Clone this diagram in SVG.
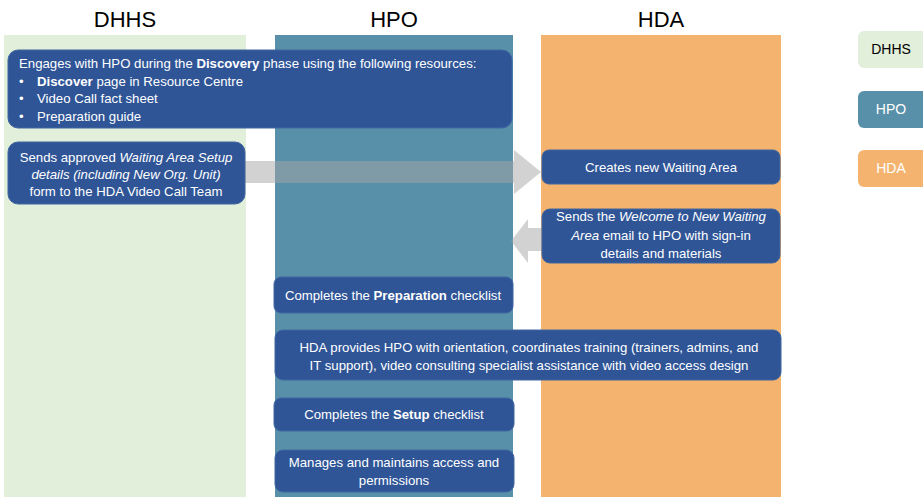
<svg xmlns="http://www.w3.org/2000/svg" width="923" height="497" viewBox="0 0 923 497">
  <style>
    .hdr { font-family: "Liberation Sans", Arial, sans-serif; font-size: 22px; fill: #000; text-anchor: middle; }
    .box { fill: #2f5597; stroke: #41669f; stroke-width: 1; }
    .t { font-family: "Liberation Sans", Arial, sans-serif; font-size: 13.2px; fill: #ffffff; }
    .c { text-anchor: middle; }
    .lg { font-family: "Liberation Sans", Arial, sans-serif; font-size: 14px; text-anchor: middle; }
    .flow { fill: #a6a6a6; fill-opacity: 0.5; }
  </style>

  <!-- swimlane headers -->
  <text class="hdr" x="125" y="27">DHHS</text>
  <text class="hdr" x="394" y="27">HPO</text>
  <text class="hdr" x="661" y="27">HDA</text>

  <!-- swimlanes -->
  <rect id="lane-dhhs" x="4" y="35" width="242" height="462" fill="#e2efda"/>
  <rect id="lane-hpo" x="275" y="35" width="238" height="462" fill="#5890aa"/>
  <rect id="lane-hda" x="541" y="35" width="240" height="462" fill="#f4b470"/>

  <!-- legend -->
  <g id="legend">
    <rect x="858" y="31" width="75" height="37" rx="6" fill="#e2efda"/>
    <text class="lg" x="891" y="54" fill="#000">DHHS</text>
    <rect x="858" y="91" width="75" height="37" rx="6" fill="#5890aa"/>
    <text class="lg" x="891" y="114" fill="#fff">HPO</text>
    <rect x="858" y="150" width="75" height="37" rx="6" fill="#f4b470"/>
    <text class="lg" x="891" y="173" fill="#fff">HDA</text>
  </g>

  <!-- connectors -->
  <g id="connectors">
    <polygon class="flow" points="245,161 514,161 514,150 541,172 514,194 514,183 245,183"/>
    <polygon class="flow" points="542,228 528,228 528,219 511,241 528,263 528,251 542,251"/>
  </g>

  <g id="discovery">
    <rect class="box" x="8" y="50" width="504" height="78" rx="10"/>
    <text class="t" x="19" y="68">Engages with HPO during the <tspan font-weight="bold">Discovery</tspan> phase using the following resources:</text>
    <text class="t" x="19" y="86">•<tspan x="37"><tspan font-weight="bold">Discover</tspan> page in Resource Centre</tspan></text>
    <text class="t" x="19" y="103">•<tspan x="37">Video Call fact sheet</tspan></text>
    <text class="t" x="19" y="121">•<tspan x="37">Preparation guide</tspan></text>
  </g>

  <g id="send-form">
    <rect class="box" x="8" y="142" width="237" height="62" rx="10"/>
    <text class="t c" x="126" y="162">Sends approved <tspan font-style="italic">Waiting Area Setup</tspan></text>
    <text class="t c" x="126" y="179" font-style="italic">details (including New Org. Unit)</text>
    <text class="t c" x="126" y="196">form to the HDA Video Call Team</text>
  </g>

  <g id="create-area">
    <rect class="box" x="542" y="150" width="238" height="34" rx="7"/>
    <text class="t c" x="661" y="172">Creates new Waiting Area</text>
  </g>

  <g id="welcome-email">
    <rect class="box" x="542" y="209" width="238" height="54" rx="8"/>
    <text class="t c" x="661" y="221">Sends the <tspan font-style="italic">Welcome to New Waiting</tspan></text>
    <text class="t c" x="661" y="240"><tspan font-style="italic">Area</tspan> email to HPO with sign-in</text>
    <text class="t c" x="661" y="258">details and materials</text>
  </g>

  <g id="preparation">
    <rect class="box" x="274" y="277" width="239" height="36" rx="7"/>
    <text class="t c" x="393" y="300">Completes the <tspan font-weight="bold">Preparation</tspan> checklist</text>
  </g>

  <g id="orientation">
    <rect class="box" x="275" y="330" width="506" height="50" rx="8"/>
    <text class="t c" x="529" y="352">HDA provides HPO with orientation, coordinates training (trainers, admins, and</text>
    <text class="t c" x="529" y="370">IT support), video consulting specialist assistance with video access design</text>
  </g>

  <g id="setup">
    <rect class="box" x="274" y="398" width="240" height="33" rx="7"/>
    <text class="t c" x="394" y="419">Completes the <tspan font-weight="bold">Setup</tspan> checklist</text>
  </g>

  <g id="access">
    <rect class="box" x="275" y="450" width="239" height="42" rx="8"/>
    <text class="t c" x="394" y="467">Manages and maintains access and</text>
    <text class="t c" x="394" y="485">permissions</text>
  </g>
</svg>
